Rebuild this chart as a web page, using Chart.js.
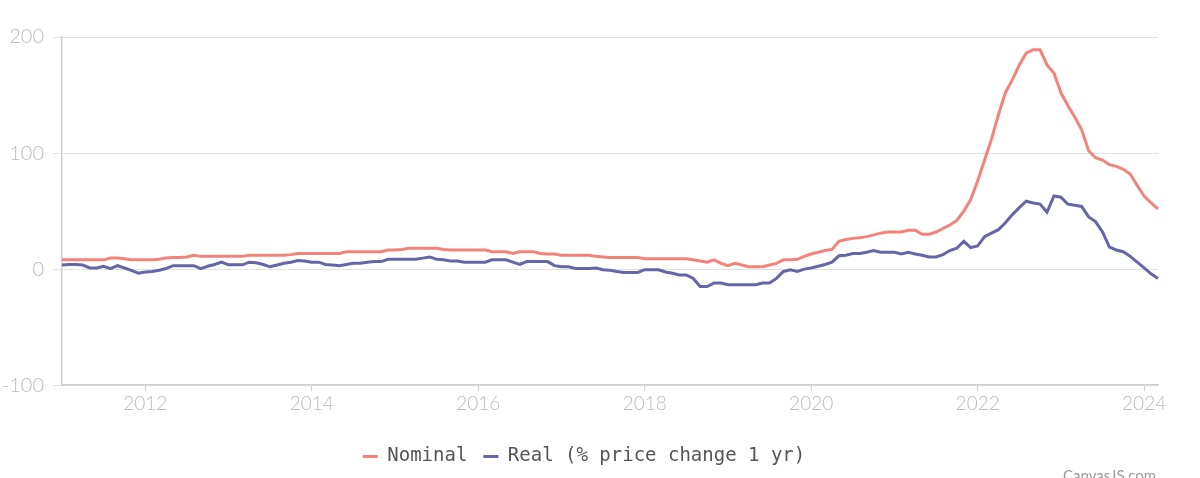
<!DOCTYPE html>
<html>
<head>
<meta charset="utf-8">
<script src="https://cdn.jsdelivr.net/npm/chart.js@4.4.1/dist/chart.umd.min.js"></script>
<style>
  html, body { margin: 0; padding: 0; background: #fff; }
  #wrap { position: relative; width: 1200px; height: 478px; overflow: hidden; }
  #credit {
    position: absolute; left: 1063px; top: 466px;
    font: 15px Lato, 'Open Sans', sans-serif; color: #9a9a9a;
  }
</style>
</head>
<body>
<div id="wrap">
  <canvas id="chart" width="1200" height="478"></canvas>
  <div id="credit">CanvasJS.com</div>
</div>
<script>
  const START_YEAR = 2011;
  const MONTH_COUNT = 159; // Jan 2011 .. Mar 2024
  const YEAR_TICKS = [2012, 2014, 2016, 2018, 2020, 2022, 2024];
  const Y_TICKS = [-100, 0, 100, 200];

  const MONTHS = [];
  for (let i = 0; i < MONTH_COUNT; i++) {
    const y = START_YEAR + Math.floor(i / 12);
    const m = (i % 12) + 1;
    MONTHS.push(y + '-' + String(m).padStart(2, '0'));
  }

  const NOMINAL = [
    8, 8, 8, 8, 8, 8, 8, 9.5, 9.5, 9, 8, 8,
    8, 8, 8.5, 9.5, 10, 10, 10.5, 12, 11, 11, 11, 11,
    11, 11, 11, 12, 12, 12, 12, 12, 12, 12.5, 13.5, 13.5,
    13.5, 13.5, 13.5, 13.5, 13.5, 15, 15, 15, 15, 15, 15, 16.5,
    16.5, 17, 18, 18, 18, 18, 18, 17, 16.5, 16.5, 16.5, 16.5,
    16.5, 16.5, 15, 15, 15, 13.5, 15, 15, 15, 13.5, 13, 13,
    12, 12, 12, 12, 12, 11, 10.5, 10, 10, 10, 10, 10,
    9, 9, 9, 9, 9, 9, 9, 8, 7, 6, 8, 5,
    3, 5, 3.5, 2, 2, 2, 3.5, 5, 8, 8, 8.5, 11,
    13, 14.5, 16, 17, 24, 25.5, 26.5, 27, 28, 29.5, 31, 32,
    32, 32, 33.5, 33.5, 30, 30, 32, 35, 38, 42, 50, 60,
    76, 94, 112, 133, 152, 163, 176, 186, 189, 189, 176, 169,
    152, 141, 131, 120, 102, 96, 94, 90, 88.5, 86, 82, 72,
    63, 57, 52
  ];

  const REAL = [
    3.5, 4, 4, 3.5, 1, 1, 2.5, 0.5, 3, 1, -1, -3.5,
    -2.5, -2, -1, 0.5, 3, 3, 3, 3, 0.5, 2.5, 4, 6,
    3.7, 3.7, 3.7, 6, 5.5, 4, 2, 3.5, 5, 6, 7.5, 7,
    6, 6, 4, 3.5, 3, 4, 5, 5, 6, 6.5, 6.5, 8.5,
    8.5, 8.5, 8.5, 8.5, 9.5, 10.5, 8.5, 8, 7, 7, 6, 6,
    6, 6, 8, 8, 8, 6, 4, 6.5, 6.5, 6.5, 6.5, 3,
    2, 2, 0.5, 0.5, 0.5, 1, -0.5, -1, -2, -2.8, -2.8, -2.8,
    -0.5, -0.5, -0.5, -2.5, -3.5, -5, -5, -8, -15, -15, -12, -12,
    -13.5, -13.5, -13.5, -13.5, -13.5, -12, -12, -8, -2, -0.5, -2, 0,
    1, 2.5, 4, 6, 11.5, 12, 13.5, 13.5, 14.5, 16, 14.5, 14.5,
    14.5, 13, 14.5, 13, 12, 10.5, 10.5, 12.5, 16, 18, 24, 18.5,
    20, 28, 31, 34, 40, 47, 53, 58.5, 57, 56, 49, 63,
    62, 56, 55, 54, 45, 41, 32, 19, 16.5, 15, 11, 6,
    1, -4, -8
  ];

  const SALMON = '#F2837A';
  const SLATE = '#6466A8';
  const TICK_GREY = '#bbbbbb';
  const AXIS_GREY = '#cfcfcf';

  // nudge the legend a few px right so it sits where the original does
  const legendShift = {
    id: 'legendShift',
    afterLayout(chart) {
      if (chart.legend) {
        chart.legend.left += 5;
        chart.legend.right += 5;
      }
    },
  };

  new Chart(document.getElementById('chart'), {
    type: 'line',
    data: {
      labels: MONTHS,
      datasets: [
        {
          label: 'Nominal',
          data: NOMINAL,
          borderColor: SALMON,
          backgroundColor: SALMON,
          borderWidth: 3,
          pointRadius: 0,
          tension: 0,
        },
        {
          label: 'Real (% price change 1 yr)',
          data: REAL,
          borderColor: SLATE,
          backgroundColor: SLATE,
          borderWidth: 3,
          pointRadius: 0,
          tension: 0,
        },
      ],
    },
    plugins: [legendShift],
    options: {
      responsive: false,
      animation: false,
      layout: { padding: { top: 37, right: 42, bottom: 2, left: 0 } },
      plugins: {
        tooltip: { enabled: false },
        legend: {
          position: 'bottom',
          labels: {
            font: { family: "'DejaVu Sans Mono', monospace", size: 19 },
            color: '#555',
            boxWidth: 15,
            boxHeight: 3,
            padding: 16,
            generateLabels: (chart) =>
              chart.data.datasets.map((ds, i) => ({
                text: ds.label,
                fillStyle: ds.borderColor,
                strokeStyle: ds.borderColor,
                lineWidth: 0,
                fontColor: '#555',
                datasetIndex: i,
              })),
          },
        },
      },
      scales: {
        x: {
          type: 'category',
          offset: false,
          afterBuildTicks: (axis) => {
            axis.ticks = axis.ticks.filter((t) => {
              const lbl = MONTHS[t.value];
              return lbl.endsWith('-01') && YEAR_TICKS.includes(Number(lbl.slice(0, 4)));
            });
          },
          afterFit: (axis) => {
            axis.height += 15;
          },
          ticks: {
            autoSkip: false,
            maxRotation: 0,
            padding: 1,
            color: TICK_GREY,
            font: { family: 'Lato, sans-serif', size: 19, weight: 300 },
            callback: (v) => MONTHS[v].slice(0, 4),
          },
          grid: { drawOnChartArea: false, drawTicks: true, tickLength: 6, color: AXIS_GREY },
          border: { color: AXIS_GREY, width: 1.5 },
        },
        y: {
          min: -100,
          max: 200,
          afterBuildTicks: (axis) => {
            axis.ticks = Y_TICKS.map((v) => ({ value: v }));
          },
          afterFit: (axis) => {
            axis.width = 62;
          },
          ticks: {
            padding: 9,
            color: TICK_GREY,
            font: { family: 'Lato, sans-serif', size: 20, weight: 300 },
            callback: (v) => String(v),
          },
          grid: { color: '#e3e3e3', tickLength: 9, lineWidth: 1 },
          border: { color: AXIS_GREY, width: 1.5 },
        },
      },
    },
  });
</script>
</body>
</html>
